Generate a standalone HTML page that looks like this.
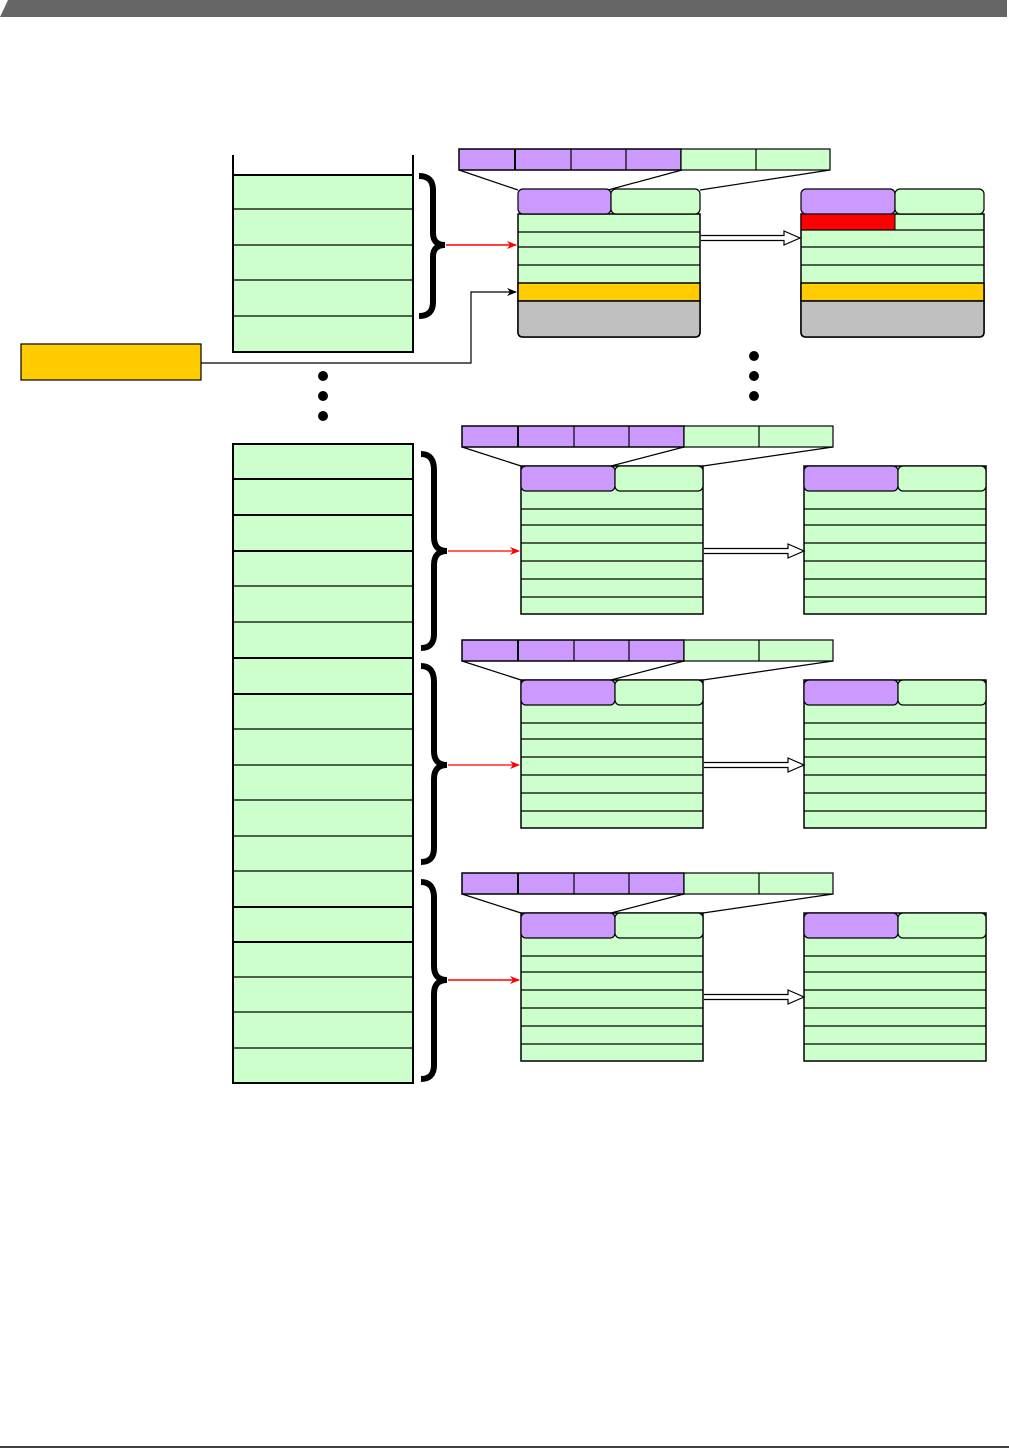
<!DOCTYPE html>
<html><head><meta charset="utf-8"><style>html,body{margin:0;padding:0;background:#fff}svg{display:block}</style></head>
<body>
<svg width="1009" height="1449" viewBox="0 0 1009 1449" xmlns="http://www.w3.org/2000/svg">
<defs>
<marker id="ar" markerWidth="10" markerHeight="8" refX="9" refY="4" orient="auto" markerUnits="userSpaceOnUse"><path d="M0,0 L10,4 L0,8 L3,4 Z" fill="#f00"/></marker>
<marker id="ab" markerWidth="10" markerHeight="8" refX="9" refY="4" orient="auto" markerUnits="userSpaceOnUse"><path d="M0,0 L10,4 L0,8 L3,4 Z" fill="#000"/></marker>
<g id="tbl">
<rect x="0" y="0" width="182" height="148" fill="#ccffcc" stroke="#000" stroke-width="1.5"/>
<g stroke="#000" stroke-width="1.2"><line x1="0" y1="43" x2="182" y2="43"/><line x1="0" y1="59" x2="182" y2="59"/><line x1="0" y1="77" x2="182" y2="77"/><line x1="0" y1="95" x2="182" y2="95"/><line x1="0" y1="113" x2="182" y2="113"/><line x1="0" y1="131" x2="182" y2="131"/></g>
<rect x="0" y="0" width="94" height="25" rx="5" fill="#cc99ff" stroke="#000" stroke-width="1.2"/>
<rect x="94" y="0" width="88" height="25" rx="5" fill="#ccffcc" stroke="#000" stroke-width="1.2"/>
</g>
<g id="bar">
<rect x="0" y="0" width="222" height="21" fill="#cc99ff" stroke="#000" stroke-width="1.5"/>
<rect x="222" y="0" width="149" height="21" fill="#ccffcc" stroke="#000" stroke-width="1.2"/>
<g stroke="#000" stroke-width="1.2"><line x1="56" y1="0" x2="56" y2="21" stroke-width="2"/><line x1="112" y1="0" x2="112" y2="21"/><line x1="167" y1="0" x2="167" y2="21"/><line x1="297" y1="0" x2="297" y2="21"/></g>
</g>
<g id="blk">
<use href="#bar" x="462" y="426"/>
<g stroke="#000" stroke-width="1.2"><line x1="462" y1="447" x2="521" y2="466"/><line x1="684" y1="447" x2="611" y2="466"/><line x1="833" y1="447" x2="703" y2="466"/></g>
<use href="#tbl" x="521" y="466"/>
<use href="#tbl" x="804" y="466"/>
</g>
</defs>

<polygon points="0,17 8,0 1007,0 1007,17" fill="#666"/>
<line x1="0" y1="1447" x2="1009" y2="1447" stroke="#000" stroke-width="1.5"/>

<!-- top left stack -->
<rect x="233" y="175" width="180" height="177" fill="#ccffcc"/>
<g stroke="#000" stroke-width="2" fill="none">
<path d="M233,155 V352 H413 V155"/>
<line x1="233" y1="175" x2="413" y2="175"/>
</g>
<g stroke="#000" stroke-width="1.2"><line x1="233" y1="209" x2="413" y2="209"/><line x1="233" y1="245" x2="413" y2="245"/><line x1="233" y1="280" x2="413" y2="280"/><line x1="233" y1="316" x2="413" y2="316"/></g>

<!-- braces -->
<g fill="none" stroke="#000" stroke-width="6">
<path d="M419,176 Q433,176 433,190 L433,233 Q433,245 445,245 Q433,245 433,257 L433,302 Q433,316 419,316"/>
<path d="M421,454 Q434,454 434,470 L434,537 Q434,551 447,551 Q434,551 434,565 L434,634 Q434,648 421,648"/>
<path d="M421,666 Q434,666 434,682 L434,751 Q434,765 447,765 Q434,765 434,779 L434,848 Q434,862 421,862"/>
<path d="M421,882 Q434,882 434,898 L434,966 Q434,980 447,980 Q434,980 434,994 L434,1065 Q434,1079 421,1079"/>
</g>

<!-- yellow box -->
<rect x="21" y="344" width="180" height="36" fill="#ffcc00" stroke="#000" stroke-width="1.2"/>
<path d="M201,363 H471 V292 H516" fill="none" stroke="#000" stroke-width="1.2" marker-end="url(#ab)"/>

<!-- dots -->
<g fill="#000"><circle cx="323" cy="376" r="5"/><circle cx="323" cy="396" r="5"/><circle cx="323" cy="416" r="5"/><circle cx="754" cy="356" r="5"/><circle cx="754" cy="376" r="5"/><circle cx="754" cy="396" r="5"/></g>

<!-- block 1 -->
<use href="#bar" x="459" y="149"/>
<g stroke="#000" stroke-width="1.2"><line x1="459" y1="170" x2="518" y2="190"/><line x1="682" y1="170" x2="608" y2="190"/><line x1="830" y1="170" x2="700" y2="190"/></g>
<g stroke="#000" stroke-width="1.5">
<path d="M518,214 H700 V332 Q700,337 695,337 H523 Q518,337 518,332 Z" fill="#ccffcc"/>
<rect x="518" y="283" width="182" height="18" fill="#ffcc00"/>
<path d="M518,301 H700 V332 Q700,337 695,337 H523 Q518,337 518,332 Z" fill="#c0c0c0"/>
<g stroke-width="1.2"><line x1="518" y1="232" x2="700" y2="232"/><line x1="518" y1="247" x2="700" y2="247"/><line x1="518" y1="265" x2="700" y2="265"/></g>
<rect x="518" y="189" width="93" height="25" rx="5" fill="#cc99ff" stroke-width="1.2"/>
<rect x="611" y="189" width="89" height="25" rx="5" fill="#ccffcc" stroke-width="1.2"/>

<path d="M801,214 H984 V332 Q984,337 979,337 H806 Q801,337 801,332 Z" fill="#ccffcc"/>
<rect x="801" y="214" width="94" height="16" fill="#ff0000" stroke-width="1"/>
<rect x="801" y="283" width="183" height="18" fill="#ffcc00"/>
<path d="M801,301 H984 V332 Q984,337 979,337 H806 Q801,337 801,332 Z" fill="#c0c0c0"/>
<g stroke-width="1.2"><line x1="801" y1="230" x2="984" y2="230"/><line x1="801" y1="247" x2="984" y2="247"/><line x1="801" y1="265" x2="984" y2="265"/></g>
<rect x="801" y="189" width="94" height="25" rx="5" fill="#cc99ff" stroke-width="1.2"/>
<rect x="895" y="189" width="89" height="25" rx="5" fill="#ccffcc" stroke-width="1.2"/>
</g>
<line x1="446" y1="245" x2="516" y2="245" stroke="#f00" stroke-width="1.5" marker-end="url(#ar)"/>
<path d="M701,235.5 H784 V231 L800,238 L784,245 V240.5 H701" fill="#fff" stroke="#000" stroke-width="1.2"/>

<!-- blocks 2-4 -->
<use href="#blk" x="0" y="0"/>
<use href="#blk" x="0" y="214"/>
<use href="#blk" x="0" y="447"/>

<g stroke="#f00" stroke-width="1.2">
<line x1="448" y1="551" x2="519" y2="551" marker-end="url(#ar)"/>
<line x1="448" y1="765" x2="519" y2="765" marker-end="url(#ar)"/>
<line x1="448" y1="980" x2="519" y2="980" stroke-width="1.5" marker-end="url(#ar)"/>
</g>
<g fill="#fff" stroke="#000" stroke-width="1.2">
<path d="M704,548.5 H788 V544 L804,551 L788,558 V553.5 H704"/>
<path d="M704,762.5 H788 V758 L804,765 L788,772 V767.5 H704"/>
<path d="M704,994.5 H788 V990 L804,997 L788,1004 V999.5 H704"/>
</g>

<!-- left big stack -->
<rect x="233" y="444" width="180" height="639" fill="#ccffcc" stroke="#000" stroke-width="2"/>
<g stroke="#000" stroke-width="1.2">
<line x1="233" y1="479" x2="413" y2="479" stroke-width="2"/>
<line x1="233" y1="515" x2="413" y2="515" stroke-width="2"/>
<line x1="233" y1="551" x2="413" y2="551" stroke-width="2"/>
<line x1="233" y1="586" x2="413" y2="586"/>
<line x1="233" y1="622" x2="413" y2="622"/>
<line x1="233" y1="658" x2="413" y2="658" stroke-width="2"/>
<line x1="233" y1="694" x2="413" y2="694" stroke-width="2"/>
<line x1="233" y1="729" x2="413" y2="729"/>
<line x1="233" y1="765" x2="413" y2="765"/>
<line x1="233" y1="800" x2="413" y2="800"/>
<line x1="233" y1="836" x2="413" y2="836"/>
<line x1="233" y1="871" x2="413" y2="871"/>
<line x1="233" y1="907" x2="413" y2="907" stroke-width="2"/>
<line x1="233" y1="942" x2="413" y2="942" stroke-width="2"/>
<line x1="233" y1="977" x2="413" y2="977"/>
<line x1="233" y1="1012" x2="413" y2="1012"/>
<line x1="233" y1="1048" x2="413" y2="1048"/>
</g>
</svg>
</body></html>
